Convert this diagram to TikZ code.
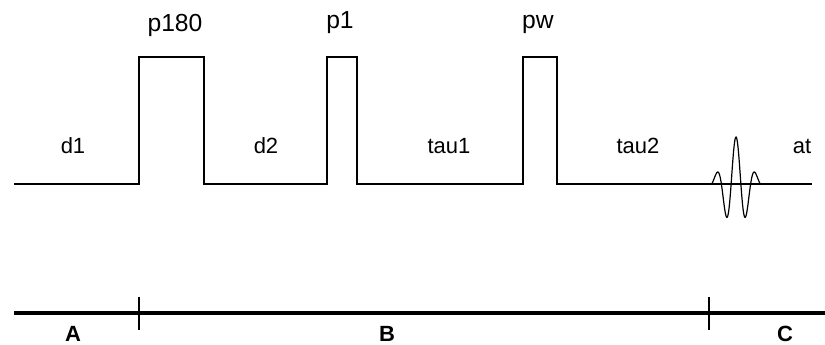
\documentclass[tikz,border=0pt]{standalone}
\usepackage{fontspec}
\setmainfont{Liberation Sans}
\usetikzlibrary{positioning}

\begin{document}
\begin{tikzpicture}[
    x=0.75pt, y=-0.75pt,
    % pulse train and time axis
    seq/.style={line width=1.5pt, line join=miter},
    axis/.style={line width=2.6pt},
    tick/.style={line width=1.6pt},
    lbl/.style={anchor=base, inner sep=0pt, font=\fontsize{16.5}{20}\selectfont},
    pulselbl/.style={lbl, font=\fontsize{18.5}{22}\selectfont},
    part/.style={anchor=base, inner sep=0pt, font=\fontsize{16.5}{20}\selectfont\bfseries}
]
    \useasboundingbox (0,0) rectangle (825,345);

    % 1. Pulse sequence (baseline with three pulses)
    \draw[seq] (14,184) -- (139,184) -- (139,57) -- (204,57) -- (204,184)
        -- (327,184) -- (327,57) -- (357,57) -- (357,184)
        -- (523,184) -- (523,57) -- (557,57) -- (557,184) -- (812,184);

    % 2. Acquired signal (FID)
    \draw[line width=0.9pt] plot[domain=-24.375:24.375, samples=120, smooth]
        ({736+\x}, {184-47*exp(-(\x/16.1)^2)*cos(360*\x/19.5)});

    % 3. Pulse and delay labels
    \node[pulselbl] (p180) at (175,32) {p180};
    \node[pulselbl] (p1)   at (340,29) {p1};
    \node[pulselbl] (pw)   at (538,29) {pw};
    \node[lbl] (d1)   at (73,154) {d1};
    \node[lbl] (d2)   at (266,154) {d2};
    \node[lbl] (tau1) at (449,154) {tau1};
    \node[lbl] (tau2) at (638,154) {tau2};
    \node[lbl] (acq)  at (802,154) {at};

    % 4. Time axis split into A, B, C
    \draw[axis] (14,313) -- (825,313);
    \draw[tick] (139,297) -- (139,330);
    \draw[tick] (709,297) -- (709,330);
    \node[part] (A) at (73,342) {A};
    \node[part] (B) at (387,342) {B};
    \node[part] (C) at (785,342) {C};

\end{tikzpicture}
\end{document}
